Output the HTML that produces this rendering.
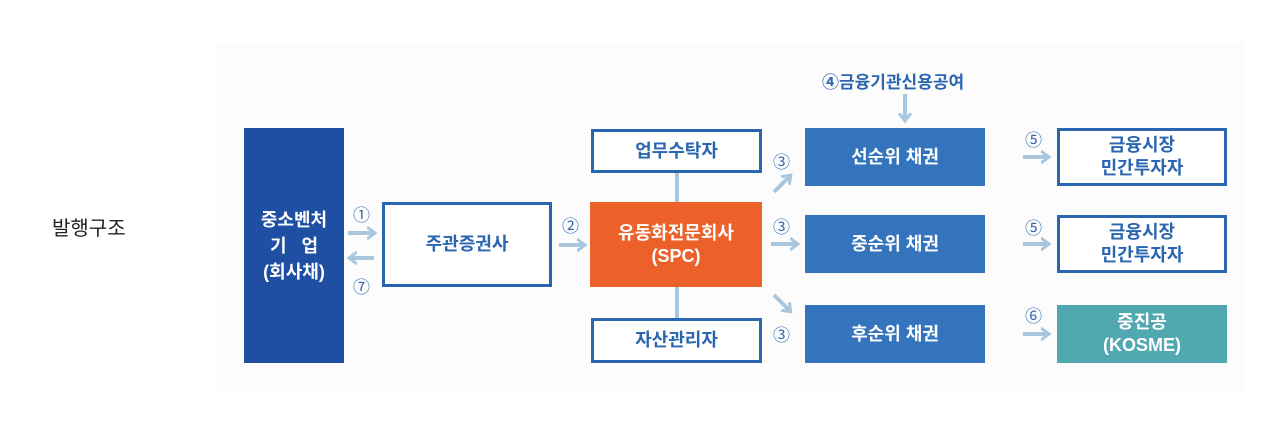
<!DOCTYPE html>
<html><head><meta charset="utf-8"><style>
body{margin:0;width:1280px;height:445px;background:#fff;position:relative;overflow:hidden;font-family:"Liberation Sans","Noto Sans CJK KR","NanumGothic",sans-serif;}
.bg{position:absolute;left:215px;top:42px;width:1030px;height:350px;background:#fcfcfd;}
.b{position:absolute;box-sizing:border-box;display:flex;align-items:center;justify-content:center;text-align:center;font-weight:bold;font-size:18px;line-height:23px;}
.w{background:#fff;border:3px solid #2a66b0;color:#2a66b0;}
.m{background:#3474bc;color:#fff;}
.n{position:absolute;color:#2a66b0;font-size:17px;}
svg{position:absolute;left:0;top:0;}
</style></head><body>
<div class="bg"></div>
<div style="position:absolute;left:52px;top:212px;font-size:20px;color:#222;">발행구조</div>
<svg width="1280" height="445">
<defs><marker id="a" markerWidth="12" markerHeight="14" refX="7" refY="7" orient="auto" markerUnits="userSpaceOnUse"><path d="M0,1 L8,7 L0,13" fill="none" stroke="#a8c7df" stroke-width="3"/></marker></defs>
<g stroke="#a8c7df" stroke-width="4" fill="none">
<line x1="677" y1="172" x2="677" y2="202"/><line x1="677" y1="287" x2="677" y2="318"/>
<line x1="348" y1="233" x2="374" y2="233" marker-end="url(#a)"/>
<line x1="374" y1="258" x2="350" y2="258" marker-end="url(#a)"/>
<line x1="559" y1="245" x2="584" y2="245" marker-end="url(#a)"/>
<line x1="774" y1="192" x2="790" y2="176" marker-end="url(#a)"/>
<line x1="771" y1="244" x2="797" y2="244" marker-end="url(#a)"/>
<line x1="774" y1="295" x2="790" y2="311" marker-end="url(#a)"/>
<line x1="905" y1="94" x2="905" y2="120" marker-end="url(#a)"/>
<line x1="1023" y1="157" x2="1048" y2="157" marker-end="url(#a)"/>
<line x1="1023" y1="244" x2="1048" y2="244" marker-end="url(#a)"/>
<line x1="1023" y1="334" x2="1048" y2="334" marker-end="url(#a)"/>
</g></svg>
<div class="b" style="left:244px;top:128px;width:100px;height:235px;background:#1e4fa3;color:#fff;line-height:26px;">중소벤처<br>기&nbsp;&nbsp;&nbsp;업<br>(회사채)</div>
<div class="b w" style="left:382px;top:202px;width:170px;height:85px;">주관증권사</div>
<div class="b w" style="left:591px;top:129px;width:171px;height:44px;">업무수탁자</div>
<div class="b" style="left:590px;top:202px;width:172px;height:85px;background:#ec612a;color:#fff;">유동화전문회사<br>(SPC)</div>
<div class="b w" style="left:591px;top:318px;width:171px;height:45px;">자산관리자</div>
<div class="b m" style="left:805px;top:128px;width:180px;height:58px;">선순위 채권</div>
<div class="b m" style="left:805px;top:215px;width:180px;height:58px;">중순위 채권</div>
<div class="b m" style="left:805px;top:305px;width:180px;height:58px;">후순위 채권</div>
<div class="b w" style="left:1057px;top:128px;width:170px;height:58px;">금융시장<br>민간투자자</div>
<div class="b w" style="left:1057px;top:215px;width:170px;height:58px;">금융시장<br>민간투자자</div>
<div class="b" style="left:1057px;top:305px;width:170px;height:58px;background:#52a8b0;color:#fff;">중진공<br>(KOSME)</div>
<div class="n" style="left:353px;top:201px;">①</div>
<div class="n" style="left:353px;top:273px;">⑦</div>
<div class="n" style="left:562px;top:212px;">②</div>
<div class="n" style="left:773px;top:148px;">③</div>
<div class="n" style="left:773px;top:213px;">③</div>
<div class="n" style="left:773px;top:321px;">③</div>
<div class="n" style="left:1025px;top:126px;">⑤</div>
<div class="n" style="left:1025px;top:214px;">⑤</div>
<div class="n" style="left:1025px;top:302px;">⑥</div>
<div class="n" style="left:822px;top:68px;font-size:17px;font-weight:bold;">④금융기관신용공여</div>
</body></html>
